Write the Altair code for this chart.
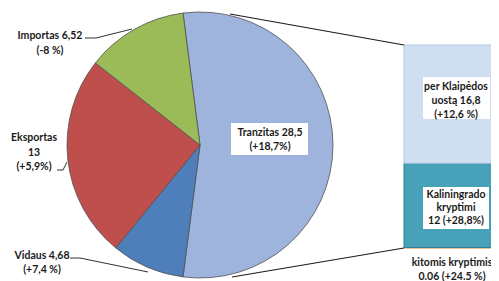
import math
import altair as alt
import pandas as pd

# ---- data ----
pie_cats = ["Tranzitas", "Vidaus", "Eksportas", "Importas"]
pie_vals = [28.5, 4.68, 13, 6.52]
pie_labels = [["Tranzitas 28,5", "(+18,7%)"],
              ["Vidaus 4,68", "(+7,4 %)"],
              ["Eksportas", "13", "(+5,9%)"],
              ["Importas 6,52", "(-8 %)"]]
bar_cats = ["kitomis kryptimis", "Kaliningrado kryptimi", "per Klaipėdos uostą"]
bar_vals = [0.06, 12, 16.8]
bar_labels = [["kitomis kryptimis", "0.06 (+24.5 %)"],
              ["Kaliningrado", "kryptimi", "12 (+28,8%)"],
              ["per Klaipėdos", "uostą  16,8", "(+12,6 %)"]]

# ---- layout / style ----
W, H = 483, 273
OFF = 8
def px(v):
    return v - OFF

pie_colors = ["#9FB4DC", "#4F7FBA", "#BE4F4C", "#9BBB59"]
bar_colors = ["#F79646", "#46A1B9", "#D0DEF2"]
bar_strokes = ["#F79646", "#2E7F95", "#AFC6E6"]
FONT = "Lato"
FS = 10.5
cx, cy, R = px(200), px(145), 133
bar_x0, bar_x1 = px(404), W + 10
bar_bottom, bar_top = px(248), px(45)

pie_df = pd.DataFrame({"pcat": pie_cats, "val": pie_vals, "ord": list(range(len(pie_cats)))})
frac_t = pie_vals[0] / sum(pie_vals)
start = math.pi / 2 - math.pi * frac_t

pie = alt.Chart(pie_df).mark_arc(outerRadius=R, stroke="#505050", strokeWidth=0.8).encode(
    theta=alt.Theta("val:Q", stack=True, scale=alt.Scale(range=[start, start + 2 * math.pi])),
    order=alt.Order("ord:Q"),
    color=alt.Color("pcat:N", scale=alt.Scale(domain=pie_cats, range=pie_colors), legend=None),
    x=alt.value(cx), y=alt.value(cy),
)

bar_df = pd.DataFrame({"bcat": bar_cats, "bval": bar_vals, "bord": list(range(len(bar_cats)))})
bar = alt.Chart(bar_df).transform_stack(
    stack="bval", as_=["y0", "y1"], groupby=[], sort=[alt.SortField("bord", order="ascending")]
).mark_rect(strokeWidth=1).encode(
    y=alt.Y("y0:Q", axis=None,
            scale=alt.Scale(domain=[0, sum(bar_vals)], range=[bar_bottom, bar_top], nice=False, zero=True)),
    y2="y1:Q",
    x=alt.value(bar_x0), x2=alt.value(bar_x1),
    color=alt.Color("bcat:N", scale=alt.Scale(domain=bar_cats, range=bar_colors), legend=None),
    stroke=alt.Stroke("bcat:N", scale=alt.Scale(domain=bar_cats, range=bar_strokes), legend=None),
)

base = alt.Chart(pd.DataFrame({"d": [0]}))

def seg(x1, y1, x2, y2, w=0.9):
    return base.mark_rule(color="#1a1a1a", strokeWidth=w).encode(
        x=alt.value(px(x1)), y=alt.value(px(y1)), x2=alt.value(px(x2)), y2=alt.value(px(y2)))

def box(x1, y1, x2, y2):
    return base.mark_rect(fill="white").encode(
        x=alt.value(px(x1)), y=alt.value(px(y1)), x2=alt.value(px(x2)), y2=alt.value(px(y2)))

def label(lines, x, y, lh=14, align="center"):
    return base.mark_text(text=lines, font=FONT, fontSize=FS, fontWeight="bold", color="#1a1a1a",
                          align=align, baseline="middle", lineHeight=lh).encode(
        x=alt.value(px(x)), y=alt.value(px(y)))

layers = [
    pie, bar,
    # connector lines
    seg(230, 14, 404, 45, 1.1), seg(232, 277, 404, 248, 1.1),
    # leader lines
    seg(85, 38, 96, 38), seg(96, 38, 132, 29),
    seg(57, 170, 63, 170), seg(63, 170, 67, 162),
    seg(70, 258, 80, 258), seg(80, 258, 148, 272),
    # label boxes
    box(231, 123, 308, 155), box(423, 77, 490, 119), box(423, 187, 489, 229),
    # labels
    label(pie_labels[0], 270, 133, 14),
    label(pie_labels[1], 42, 256, 14),
    label(pie_labels[2], 34, 138, 14.5),
    label(pie_labels[3], 50, 36, 15),
    label(bar_labels[2], 456, 87, 14),
    label(bar_labels[1], 456, 195, 13),
    label(bar_labels[0], 452, 263, 14),
]

chart = alt.layer(*layers).resolve_scale(
    color="independent", stroke="independent", y="independent", theta="independent"
).properties(width=W, height=H, padding=0, autosize="none").configure_view(stroke=None)

chart.save("out.html", embed_options={"renderer": "svg", "actions": False})
